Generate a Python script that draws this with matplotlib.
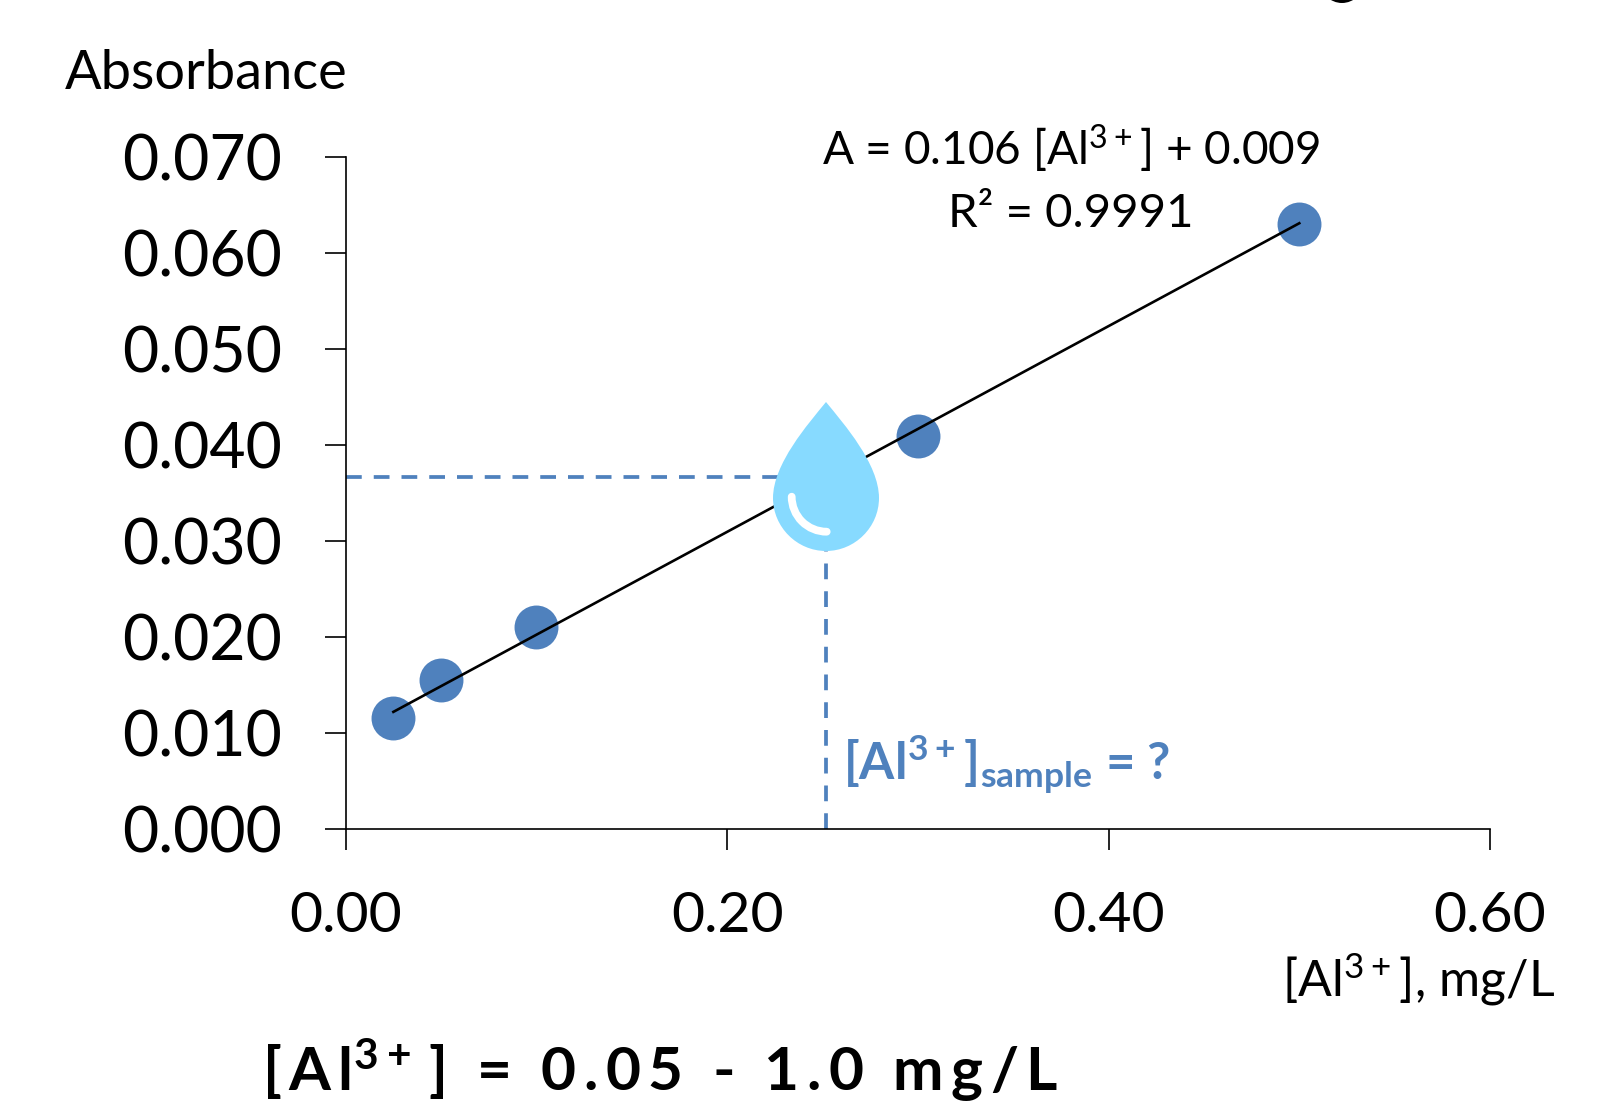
import matplotlib
matplotlib.use("Agg")
import matplotlib.pyplot as plt
from matplotlib.path import Path
from matplotlib.patches import PathPatch, Ellipse
from matplotlib.transforms import Affine2D

plt.rcParams['font.family'] = ['Lato', 'DejaVu Sans']
plt.rcParams['mathtext.fontset'] = 'custom'
plt.rcParams['mathtext.rm'] = 'Lato'
plt.rcParams['mathtext.bf'] = 'Lato:bold'
plt.rcParams['mathtext.default'] = 'regular'

W, H = 1618, 1106
conc = [0.025, 0.05, 0.10, 0.30, 0.50]
absorbance = [0.0116, 0.0155, 0.0210, 0.0409, 0.0630]
fit_x = [0.025, 0.50]
fit_y = [0.0122, 0.0631]
sample_x = 0.2516
sample_y = 0.0367
x_ticks = [0.0, 0.2, 0.4, 0.6]
y_ticks = [0.0, 0.01, 0.02, 0.03, 0.04, 0.05, 0.06, 0.07]
x_labels = ['0.00', '0.20', '0.40', '0.60']
y_labels = ['0.000', '0.010', '0.020', '0.030', '0.040', '0.050', '0.060', '0.070']

BLUE = '#4F81BD'
DROP = '#87DAFF'

fig = plt.figure(figsize=(W / 100, H / 100), dpi=100)
L, R, T, B = 345.7, 1490, 157, 829
ax = fig.add_axes([L / W, 1 - B / H, (R - L) / W, (B - T) / H])
ax.set_xlim(0, 0.6)
ax.set_ylim(0, 0.07)
for s in ('top', 'right'):
    ax.spines[s].set_visible(False)
for s in ('left', 'bottom'):
    ax.spines[s].set_linewidth(1.2)
ax.set_xticks(x_ticks)
ax.set_xticklabels(x_labels, fontsize=41)
ax.set_yticks(y_ticks)
ax.set_yticklabels(y_labels, fontsize=45)
ax.tick_params(axis='x', length=15, width=1.2, pad=30)
ax.tick_params(axis='y', length=15, width=1.2, pad=31)

ax.plot([0, sample_x], [sample_y, sample_y], color=BLUE, lw=2.7, ls=(0, (4.2, 3.2)), zorder=2)
ax.plot([sample_x, sample_x], [0, sample_y], color=BLUE, lw=2.7, ls=(0, (4.2, 3.2)), zorder=2)
ax.scatter(conc, absorbance, s=1000, color=BLUE, linewidths=0, zorder=3, clip_on=False)
ax.plot(fit_x, fit_y, color='black', lw=1.9, zorder=4)

# water drop, sized in pixels
drop_t = Affine2D().translate(826, H - 498)
verts = [(0, 96), (-18, 74), (-53, 34), (-53, 0), (-53, -29), (-29, -53), (0, -53),
         (29, -53), (53, -29), (53, 0), (53, 34), (18, 74), (0, 96)]
codes = [Path.MOVETO] + [Path.CURVE4] * 12
fig.add_artist(PathPatch(Path(verts, codes), transform=drop_t, facecolor=DROP, edgecolor='none', zorder=5))
arc = Path.arc(180, 270)
arc_t = Affine2D().scale(35).translate(0.7, 1.3) + drop_t
fig.add_artist(PathPatch(arc, transform=arc_t, facecolor='none', edgecolor='white', lw=5.6,
                         capstyle='round', zorder=6))
fig.add_artist(Ellipse((1342, H + 18.7), 43.4, 43.4, transform=Affine2D(), facecolor='black',
                       edgecolor='none', zorder=6))


def label(x, y, s, **kw):
    fig.text(x / W, 1 - y / H, s, **kw)


SUP = r'$^{\mathregular{3+}}$'
label(65, 89, 'Absorbance', fontsize=39, ha='left', va='baseline')
label(1071, 165, 'A = 0.106 [Al' + SUP + '] + 0.009', fontsize=33, ha='center', va='baseline')
label(1071, 227, 'R² = 0.9991', fontsize=34, ha='center', va='baseline')
label(843, 780, r'[Al$^{\mathbf{3+}}$]$_{\mathbf{sample}}$ = ?', fontsize=36.5, color=BLUE,
      fontweight='bold', ha='left', va='baseline')
label(1555, 997, '[Al' + SUP + '], mg/L', fontsize=36, ha='right', va='baseline')
TS = '\u2009'
spaced = (TS.join('[Al') + r'$^{\mathbf{3+}}$' + TS + ']  =  ' + TS.join('0.05') + '  -  '
          + TS.join('1.0') + '  ' + TS.join('mg/L'))
label(262, 1091, spaced, fontsize=43.5, fontweight='bold', ha='left', va='baseline')

fig.savefig('out.png', dpi=100)
